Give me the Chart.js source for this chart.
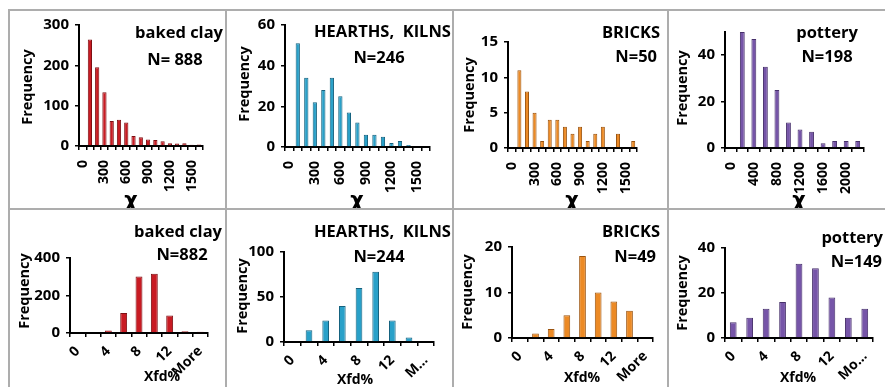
<!DOCTYPE html>
<html>
<head>
<meta charset="utf-8">
<script src="https://cdn.jsdelivr.net/npm/chart.js@4.4.0/dist/chart.umd.min.js"></script>
<style>
  body { margin: 0; background: #fff; width: 885px; height: 387px; position: relative; overflow: hidden; }
  canvas { position: absolute; }
  .line { position: absolute; background: #adadad; }
</style>
</head>
<body>
<script>
// ---- data ----
const chiBins = ["0", "100", "200", "300", "400", "500", "600", "700", "800", "900", "1000", "1100", "1200", "1300", "1400", "1500", "1600"];
const chiBinsPottery = ["0", "200", "400", "600", "800", "1000", "1200", "1400", "1600", "1800", "2000", "2200"];
const xfdBins = ["0", "2", "4", "6", "8", "10", "12", "14", "More"];

const chiTickLabels = ["0", "300", "600", "900", "1200", "1500"];
const chiTickLabelsPottery = ["0", "400", "800", "1200", "1600", "2000"];
const xfdTickLabels = ["0", "4", "8", "12", "More"];

const bakedClayChi = [0, 264, 195, 133, 62, 65, 58, 25, 22, 16, 15, 12, 7, 6, 7, 3, 4];
const hearthsChi = [0, 51, 34, 22, 28, 34, 25, 17, 12, 6, 6, 5, 2, 3, 1, 0, 0];
const bricksChi = [0, 11, 8, 5, 1, 4, 4, 3, 2, 3, 1, 2, 3, 0, 2, 0, 1];
const potteryChi = [0, 50, 47, 35, 25, 11, 8, 7, 2, 3, 3, 3];

const bakedClayXfd = [0, 0, 14, 107, 302, 316, 94, 9, 7];
const hearthsXfd = [0, 13, 24, 40, 60, 78, 24, 5, 0];
const bricksXfd = [0, 1, 2, 5, 18, 10, 8, 6, 0];
const potteryXfd = [7, 9, 13, 16, 33, 31, 18, 9, 13];

// ---- grid of cells ----
const colX = [9, 226, 453, 668];
const colW = [217, 227, 215, 217];
const rowY = [10, 209];
const rowH = [199, 178];

const FONT = "'Open Sans'";
const RED = ["#c81b23", "#7e1014"];
const TEAL = ["#29a0c8", "#15627f"];
const ORANGE = ["#ec8a25", "#9c540f"];
const PURPLE = ["#7655a8", "#47306b"];

const panels = [
  { col: 0, row: 0, area: [70, 14, 209, 136], bins: chiBins, values: bakedClayChi, shown: chiTickLabels, color: RED, yMax: 300, yStep: 100, rot: 90, bar: 0.58,
    texts: [["baked clay", 214, 23, "right"], ["N= 888", 166, 50, "center"]], yTitle: [19, 77], xTitle: ["χ", 122, 192] },
  { col: 1, row: 0, area: [59, 13, 204, 137], bins: chiBins, values: hearthsChi, shown: chiTickLabels, color: TEAL, yMax: 60, yStep: 20, rot: 90, bar: 0.5,
    texts: [["HEARTHS,  KILNS", 88, 22, "left"], ["N=246", 153, 48, "center"]], yTitle: [19, 74], xTitle: ["χ", 131, 192] },
  { col: 2, row: 0, area: [55, 32, 184, 138], bins: chiBins, values: bricksChi, shown: chiTickLabels, color: ORANGE, yMax: 15, yStep: 5, rot: 90, bar: 0.53,
    texts: [["BRICKS", 207, 23, "right"], ["N=50", 204, 47, "right"]], yTitle: [17, 85], xTitle: ["χ", 119, 192] },
  { col: 3, row: 0, area: [57, 22, 205, 138], bins: chiBinsPottery, values: potteryChi, shown: chiTickLabelsPottery, color: PURPLE, yMax: 50, yStep: 20, rot: 90, bar: 0.42,
    texts: [["pottery", 159, 23, "center"], ["N=198", 159, 47, "center"]], yTitle: [15, 78], xTitle: ["χ", 131, 192] },
  { col: 0, row: 1, area: [61, 49, 199, 124], bins: xfdBins, values: bakedClayXfd, shown: xfdTickLabels, more: "More", color: RED, yMax: 400, yStep: 200, rot: 45, bar: 0.45,
    texts: [["baked clay", 213, 23, "right"], ["N=882", 173, 46, "center"]], yTitle: [16, 82], xTitle: ["Xfd%", 153, 168] },
  { col: 1, row: 1, area: [58, 43, 208, 133], bins: xfdBins, values: hearthsXfd, shown: xfdTickLabels, more: "M…", color: TEAL, yMax: 100, yStep: 50, rot: 45, bar: 0.4,
    texts: [["HEARTHS,  KILNS", 88, 23, "left"], ["N=244", 153, 48, "center"]], yTitle: [17, 87], xTitle: ["Xfd%", 129, 171] },
  { col: 2, row: 1, area: [59, 38, 200, 129], bins: xfdBins, values: bricksXfd, shown: xfdTickLabels, more: "More", color: ORANGE, yMax: 20, yStep: 10, rot: 45, bar: 0.43,
    texts: [["BRICKS", 207, 23, "right"], ["N=49", 203, 48, "right"]], yTitle: [15, 83], xTitle: ["Xfd%", 129, 169] },
  { col: 3, row: 1, area: [57, 39, 205, 129], bins: xfdBins, values: potteryXfd, shown: xfdTickLabels, more: "Mo…", color: PURPLE, yMax: 40, yStep: 20, rot: 45, bar: 0.41,
    texts: [["pottery", 215, 29, "right"], ["N=149", 214, 53, "right"]], yTitle: [15, 84], xTitle: ["Xfd%", 130, 169] },
];

// free text inside a panel (titles, counts, axis titles)
const panelText = {
  id: "panelText",
  afterDraw(chart, args, opts) {
    const ctx = chart.ctx;
    opts.items.forEach(t => {
      ctx.save();
      ctx.translate(t.x, t.y);
      if (t.rot) ctx.rotate(t.rot * Math.PI / 180);
      ctx.font = "bold " + t.size + "px " + (t.family || FONT);
      ctx.fillStyle = "#000";
      ctx.textAlign = t.align || "center";
      ctx.textBaseline = "middle";
      ctx.fillText(t.text, 0, 0);
      ctx.restore();
    });
  }
};

function addLine(x, y, w, h) {
  const d = document.createElement("div");
  d.className = "line";
  Object.assign(d.style, { left: x + "px", top: y + "px", width: w + "px", height: h + "px" });
  document.body.appendChild(d);
}

panels.forEach(p => {
  const W = colW[p.col], H = rowH[p.row];
  const [left, top, right, bottom] = p.area;
  const canvas = document.createElement("canvas");
  canvas.width = W;
  canvas.height = H;
  canvas.style.left = colX[p.col] + "px";
  canvas.style.top = rowY[p.row] + "px";
  document.body.appendChild(canvas);

  const items = p.texts.map(([text, x, y, align]) => ({ text, x, y, align, size: 16.5 }));
  items.push({ text: "Frequency", x: p.yTitle[0], y: p.yTitle[1], rot: -90, size: 14.5 });
  const xt = p.xTitle;
  const isChi = xt[0] === "χ";
  items.push({ text: xt[0], x: xt[1], y: xt[2], size: isChi ? 21 : 14, family: isChi ? "'DejaVu Sans'" : FONT });

  new Chart(canvas.getContext("2d"), {
    type: "bar",
    data: {
      labels: p.bins,
      datasets: [{
        data: p.values,
        backgroundColor: p.color[0],
        borderColor: p.color[1],
        borderWidth: 1,
        categoryPercentage: 1,
        barPercentage: p.bar,
      }],
    },
    options: {
      responsive: false,
      animation: false,
      events: [],
      layout: { padding: { left: 0, top: top, right: W - right, bottom: 0 } },
      plugins: {
        legend: { display: false },
        tooltip: { enabled: false },
        panelText: { items },
      },
      scales: {
        x: {
          grid: { drawOnChartArea: false, drawTicks: true, tickLength: 4, color: "#000", lineWidth: 1.5 },
          border: { display: true, color: "#000", width: 2 },
          ticks: {
            autoSkip: false,
            minRotation: p.rot,
            maxRotation: p.rot,
            padding: p.rot === 90 ? 10 : 6,
            color: "#000",
            font: { family: FONT, weight: "bold", size: 14 },
            callback: function (v) {
              const c = this.getLabelForValue(v);
              if (!p.shown.includes(c)) return "";
              return c === "More" ? p.more : c;
            },
          },
          afterFit(s) { s.height = H - bottom; },
        },
        y: {
          min: 0,
          max: p.yMax,
          grid: { drawOnChartArea: false, drawTicks: true, tickLength: 4, color: "#000", lineWidth: 1.5 },
          border: { display: true, color: "#000", width: 2 },
          ticks: {
            stepSize: p.yStep,
            padding: 6,
            color: "#000",
            font: { family: FONT, weight: "bold", size: 15 },
          },
          afterBuildTicks(s) { s.ticks = s.ticks.filter(t => t.value % p.yStep === 0); },
          afterFit(s) { s.width = left; },
        },
      },
    },
    plugins: [panelText],
  });
});

// cell borders
colX.forEach(x => addLine(x - 1, 10, 2, 377));
rowY.forEach(y => addLine(8, y - 1, 877, 2));
</script>
</body>
</html>
